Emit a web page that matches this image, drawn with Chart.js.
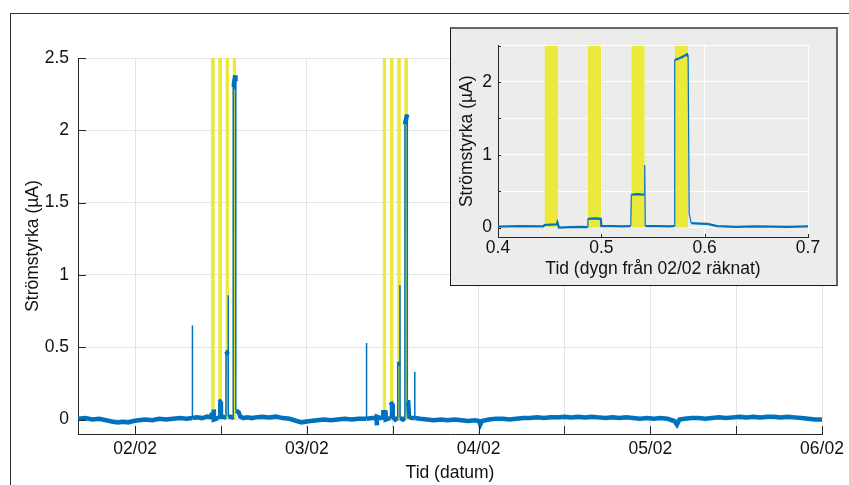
<!DOCTYPE html>
<html lang="sv">
  <head>
    <meta charset="UTF-8" />
    <title>Strömstyrka</title>
    <style>
      body {
        margin: 0;
        width: 849px;
        height: 485px;
        overflow: hidden;
        position: relative;
        background: #fff;
        font-family: "Liberation Sans", Arial, sans-serif;
      }
      #ram {
        position: absolute;
        left: 10px;
        top: 13px;
        width: 900px;
        height: 500px;
        border-left: 1px solid #333;
        border-top: 1px solid #333;
      }
      #huvud {
        position: absolute;
        left: 0;
        top: 0;
      }
      #infalld {
        position: absolute;
        left: 450px;
        top: 27px;
        width: 385px;
        height: 256px;
        background: #ecedeb;
        border-left: 1px solid #1a1a1a;
        border-bottom: 1px solid #1a1a1a;
        border-top: 2px solid #666;
        border-right: 2px solid #666;
      }
      #infalld canvas {
        position: absolute;
        left: 0;
        top: 0;
      }
    </style>
    <script src="https://cdn.jsdelivr.net/npm/chart.js"></script>
  </head>
  <body>
    <div id="ram"></div>
    <canvas id="huvud" width="849" height="485"></canvas>
    <div id="infalld"><canvas id="zoom" width="385" height="256"></canvas></div>

    <script>
      // tid i dygn räknat från 02/02 00:00, strömstyrka i µA
      const tid = [
        -0.333, -0.29, -0.25, -0.21, -0.17, -0.13, -0.1, -0.07, -0.04, -0.01,
        0.02, 0.06, 0.1, 0.14, 0.18, 0.22, 0.26, 0.3, 0.332, 0.333, 0.334,
        0.36, 0.39, 0.42, 0.444, 0.445, 0.451, 0.457, 0.4575, 0.459, 0.47,
        0.48, 0.4865, 0.487, 0.494, 0.4995, 0.5, 0.51, 0.52, 0.5285, 0.529,
        0.535, 0.5415, 0.542, 0.5425, 0.555, 0.565, 0.5705, 0.571, 0.575,
        0.579, 0.583, 0.584, 0.585, 0.587, 0.595, 0.603, 0.612, 0.63, 0.65,
        0.68, 0.7, 0.74, 0.78, 0.82, 0.86, 0.9, 0.94, 0.97, 0.99,
        1.02, 1.06, 1.1, 1.14, 1.18, 1.22, 1.26, 1.3, 1.346, 1.347, 1.348,
        1.38, 1.406, 1.407, 1.408, 1.43, 1.444, 1.445, 1.457, 1.459, 1.47,
        1.4865, 1.487, 1.4995, 1.5, 1.515, 1.5285, 1.529, 1.5415, 1.542,
        1.5425, 1.56, 1.5705, 1.571, 1.578, 1.584, 1.585, 1.59, 1.595, 1.61,
        1.627, 1.628, 1.629, 1.66, 1.7, 1.74, 1.78, 1.82, 1.86, 1.9, 1.94,
        1.98, 2.0, 2.01, 2.02, 2.06, 2.1, 2.14, 2.18, 2.22, 2.26, 2.3, 2.34,
        2.38, 2.42, 2.46, 2.5, 2.54, 2.58, 2.62, 2.66, 2.7, 2.74, 2.78, 2.82,
        2.86, 2.9, 2.94, 2.98, 3.02, 3.06, 3.1, 3.14, 3.155, 3.17, 3.2, 3.24,
        3.28, 3.32, 3.36, 3.4, 3.44, 3.48, 3.52, 3.56, 3.6, 3.64, 3.68, 3.72,
        3.76, 3.8, 3.84, 3.88, 3.92, 3.96, 4.0,
      ];
      const strom = [
        0.005, 0.01, 0.0, 0.005, -0.005, -0.015, -0.02, -0.015, -0.02, -0.01,
        -0.005, 0.0, -0.005, 0.005, 0.0, 0.005, 0.01, 0.005, 0.01, 0.65, 0.01,
        0.015, 0.01, 0.02, 0.015, 0.035, 0.04, 0.045, 0.07, 0.0, 0.005,
        0.01, 0.005, 0.12, 0.125, 0.12, 0.02, 0.02, 0.015, 0.02, 0.45,
        0.46, 0.45, 0.86, 0.02, 0.02, 0.015, 0.02, 2.3, 2.32,
        2.35, 2.38, 2.34, 0.19, 0.06, 0.055, 0.05, 0.02, 0.01, 0.015,
        0.01, 0.015, 0.02, 0.015, 0.02, 0.01, 0.005, -0.01, -0.02, -0.015,
        -0.01, -0.005, 0.0, -0.005, 0.0, 0.005, 0.0, 0.005, 0.005, 0.53, 0.005,
        0.01, 0.01, -0.04, 0.02, 0.01, 0.015, 0.05, 0.05, 0.0, 0.005,
        0.01, 0.12, 0.1, 0.02, 0.0, 0.01, 0.38, 0.39, 0.93,
        0.01, 0.0, 0.01, 2.04, 2.08, 2.11, 0.12, 0.12, 0.02, 0.01,
        0.01, 0.33, 0.01, 0.005, 0.0, -0.005, 0.0, -0.005, 0.0, -0.005, -0.01,
        -0.005, -0.01, -0.035, -0.01, 0.0, 0.005, 0.005, 0.0, 0.005, 0.01, 0.01, 0.015,
        0.01, 0.015, 0.015, 0.02, 0.015, 0.02, 0.015, 0.02, 0.015, 0.01, 0.015, 0.01,
        0.015, 0.01, 0.005, 0.01, 0.005, 0.01, 0.005, -0.01, -0.035, 0.0, 0.005, 0.01,
        0.01, 0.005, 0.01, 0.015, 0.01, 0.015, 0.02, 0.015, 0.02, 0.015, 0.02, 0.02,
        0.015, 0.02, 0.015, 0.01, 0.005, 0.0, 0.0,
      ];
      // belysta intervall (gula fält)
      const bandStart = [0.445, 0.487, 0.529, 0.571, 1.445, 1.487, 1.529, 1.571];
      const bandSlut = [0.458, 0.5, 0.542, 0.584, 1.458, 1.5, 1.542, 1.584];
      const bandTopp = 2.5;
      const datumEtiketter = ["02/02", "03/02", "04/02", "05/02", "06/02"];

      const BLA = "#0072bd";
      const GUL = "#ece83c";
      const AXEL = "#262626";
      const TEXT = "#111";
      const FONT = { family: "'Liberation Sans', Arial, sans-serif", size: 17.5 };

      const punkter = tid.map((t, i) => ({ x: t, y: strom[i] }));

      function bandDatasets(kant) {
        return bandStart.map((s, i) => ({
          type: "line",
          data: [
            { x: s, y: 0 },
            { x: s, y: bandTopp },
            { x: bandSlut[i], y: bandTopp },
            { x: bandSlut[i], y: 0 },
          ],
          borderColor: GUL,
          borderWidth: kant,
          backgroundColor: GUL,
          fill: "origin",
          pointRadius: 0,
          order: 2,
        }));
      }

      // brusig mätserie: tjock där kurvan är plan, tunn i branta språng
      function linjeBredd(tjock, tunn) {
        return (ctx) =>
          Math.abs(ctx.p1.parsed.y - ctx.p0.parsed.y) > 0.1 ? tunn : tjock;
      }

      // MATLAB-liknande tickmarkeringar riktade inåt
      const inatTickar = {
        id: "inatTickar",
        afterDraw(chart, args, opts) {
          const { ctx, chartArea: a, scales } = chart;
          ctx.save();
          ctx.strokeStyle = AXEL;
          ctx.lineWidth = 1;
          ctx.beginPath();
          scales.x.ticks.forEach((t) => {
            const k = t.value / opts.xSteg;
            if (Math.abs(k - Math.round(k)) > 1e-6) return;
            const px = Math.round(scales.x.getPixelForValue(t.value)) + 0.5;
            ctx.moveTo(px, a.bottom);
            ctx.lineTo(px, a.bottom - opts.langd);
          });
          scales.y.ticks.forEach((t) => {
            const k = t.value / opts.ySteg;
            if (Math.abs(k - Math.round(k)) > 1e-6) return;
            const py = Math.round(scales.y.getPixelForValue(t.value)) + 0.5;
            ctx.moveTo(a.left, py);
            ctx.lineTo(a.left + opts.langd, py);
          });
          ctx.stroke();
          ctx.restore();
        },
      };

      new Chart(document.getElementById("huvud"), {
        type: "scatter",
        data: {
          datasets: [
            {
              type: "line",
              data: punkter,
              borderColor: BLA,
              borderWidth: 4,
              segment: { borderWidth: linjeBredd(4.5, 1.5) },
              pointRadius: 0,
              fill: false,
              order: 1,
            },
            ...bandDatasets(1),
          ],
        },
        options: {
          responsive: false,
          animation: false,
          layout: { padding: { top: 58, right: 27, bottom: 0, left: 0 } },
          plugins: {
            legend: { display: false },
            tooltip: { enabled: false },
            inatTickar: { langd: 8, xSteg: 0.5, ySteg: 0.5 },
          },
          scales: {
            x: {
              type: "linear",
              min: -0.333,
              max: 4,
              afterFit: (s) => (s.height = 51),
              grid: { color: "#e3e3e3", drawTicks: false },
              border: { color: AXEL, width: 1 },
              ticks: {
                stepSize: 0.5,
                includeBounds: false,
                padding: 5,
                color: TEXT,
                font: FONT,
                maxRotation: 0,
                autoSkip: false,
                callback: (v) => (Number.isInteger(v) ? datumEtiketter[v] : ""),
              },
              title: {
                display: true,
                text: "Tid (datum)",
                color: TEXT,
                font: FONT,
                padding: { top: 0, bottom: 1.5 },
              },
            },
            y: {
              min: -0.1,
              max: 2.5,
              afterFit: (s) => (s.width = 78),
              grid: { color: "#e3e3e3", drawTicks: false },
              border: { color: AXEL, width: 1 },
              ticks: {
                stepSize: 0.5,
                includeBounds: false,
                padding: 9,
                color: TEXT,
                font: FONT,
                callback: (v) => (v < 0 ? "" : String(v)),
              },
              title: {
                display: true,
                text: "Strömstyrka (µA)",
                color: TEXT,
                font: FONT,
                padding: { top: 22.5, bottom: 0 },
              },
            },
          },
        },
        plugins: [inatTickar],
      });

      new Chart(document.getElementById("zoom"), {
        type: "scatter",
        data: {
          datasets: [
            {
              type: "line",
              data: punkter,
              borderColor: BLA,
              borderWidth: 2,
              segment: { borderWidth: linjeBredd(2.2, 1.2) },
              pointRadius: 0,
              fill: false,
              order: 1,
            },
            ...bandDatasets(0),
          ],
        },
        options: {
          responsive: false,
          animation: false,
          layout: { padding: { top: 11, right: 28, bottom: 0, left: 0 } },
          plugins: {
            legend: { display: false },
            tooltip: { enabled: false },
            inatTickar: { langd: 3, xSteg: 0.1, ySteg: 0.5 },
          },
          scales: {
            x: {
              type: "linear",
              min: 0.4,
              max: 0.7,
              afterFit: (s) => (s.height = 48),
              grid: { color: "#ffffff", drawTicks: false },
              border: { color: AXEL, width: 1 },
              ticks: {
                stepSize: 0.1,
                padding: 1,
                color: TEXT,
                font: FONT,
                maxRotation: 0,
                autoSkip: false,
                callback: (v) => String(Math.round(v * 10) / 10),
              },
              title: {
                display: true,
                text: "Tid (dygn från 02/02 räknat)",
                color: TEXT,
                font: FONT,
                padding: { top: 0, bottom: 5.5 },
              },
            },
            y: {
              min: -0.13,
              max: 2.5,
              afterFit: (s) => (s.width = 47),
              grid: { color: "#ffffff", drawTicks: false },
              border: { color: AXEL, width: 1 },
              ticks: {
                stepSize: 0.5,
                includeBounds: false,
                padding: 6,
                color: TEXT,
                font: FONT,
                callback: (v) => (v >= 0 && Number.isInteger(v) ? String(v) : ""),
              },
              title: {
                display: true,
                text: "Strömstyrka (µA)",
                color: TEXT,
                font: FONT,
                padding: { top: 5.5, bottom: 0 },
              },
            },
          },
        },
        plugins: [inatTickar],
      });
    </script>
  </body>
</html>
